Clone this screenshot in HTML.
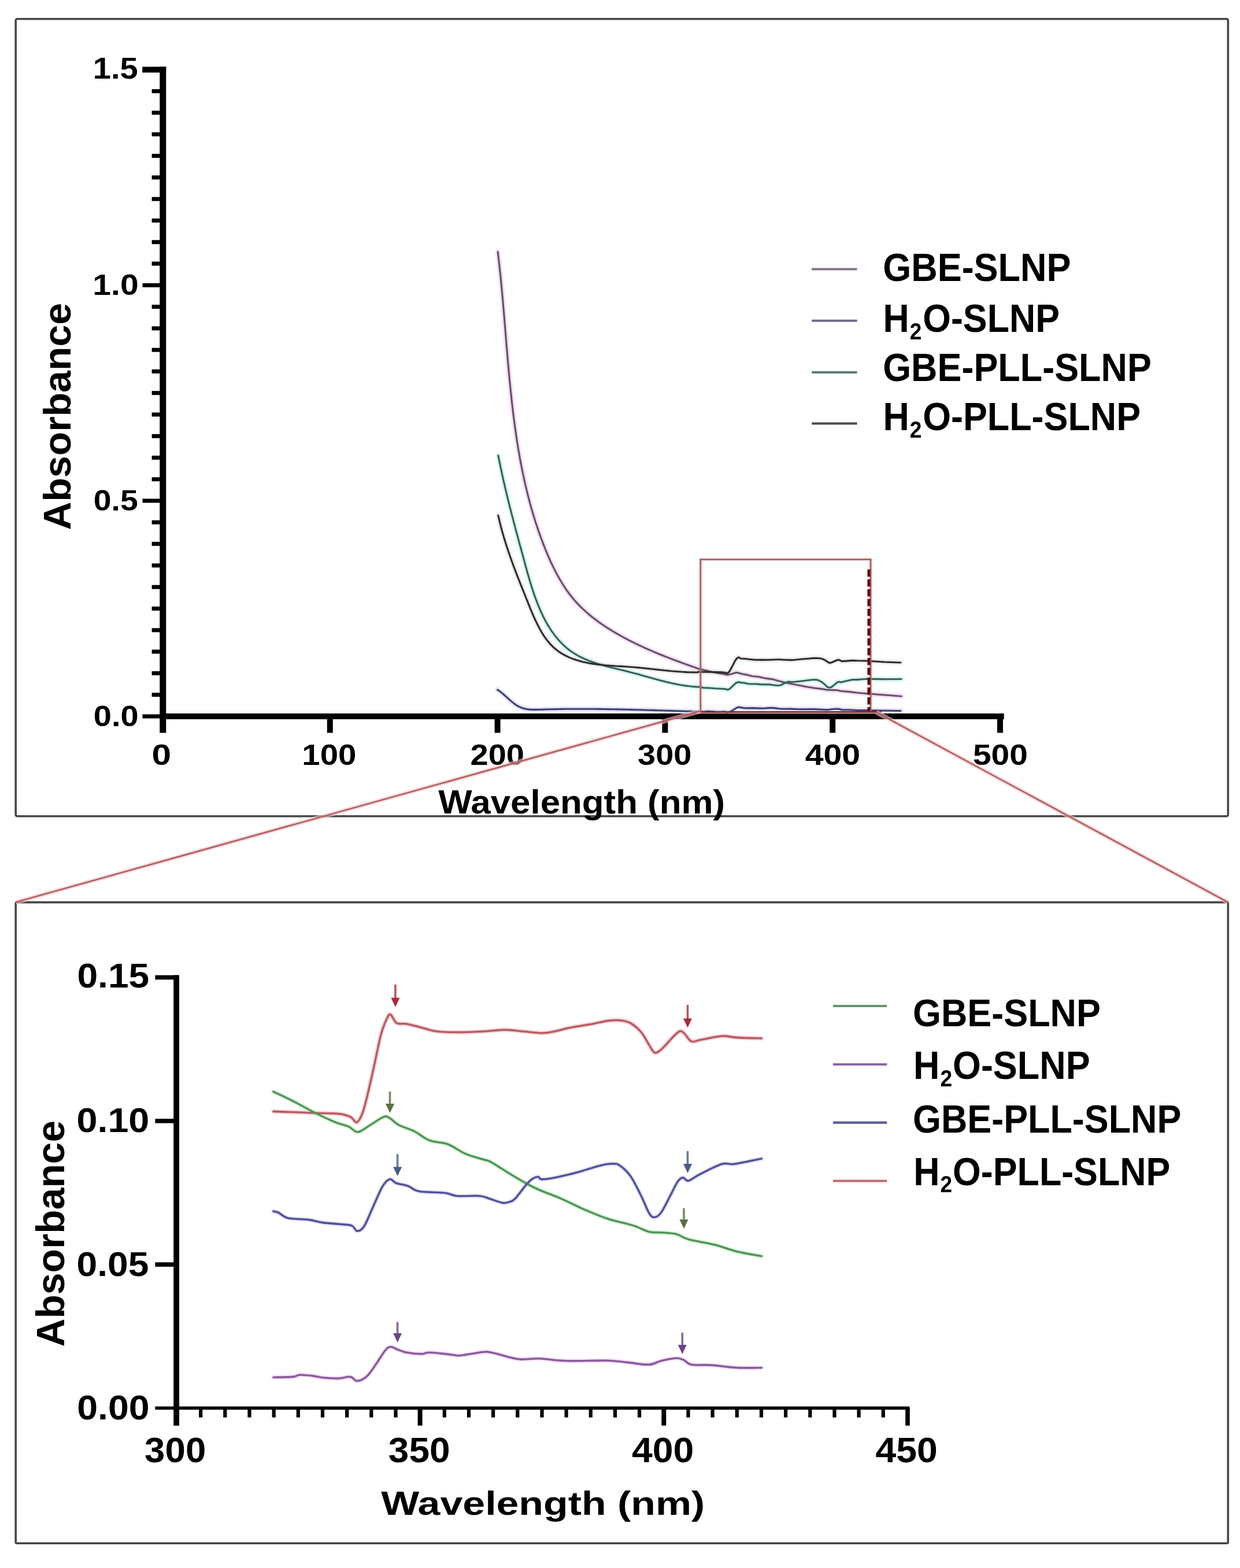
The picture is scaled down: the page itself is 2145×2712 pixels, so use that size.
<!DOCTYPE html>
<html><head><meta charset="utf-8"><title>UV-Vis absorbance spectra</title>
<style>html,body{margin:0;padding:0;background:#fff;}body{width:2145px;height:2712px;overflow:hidden;}svg{display:block;}text{font-family:"Liberation Sans",Arial,sans-serif;font-weight:bold;}</style>
</head><body>
<svg width="2145" height="2712" viewBox="0 0 2145 2712" font-family="Liberation Sans, Arial, sans-serif" font-weight="bold">
<rect width="2145" height="2712" fill="#fff"/>
<rect x="27.2" y="32.8" width="2097.1" height="1378.9" rx="2.5" fill="none" stroke="#464646" stroke-width="3.6"/>
<rect x="27.2" y="1560.6" width="2097.1" height="1108.7" rx="2" fill="none" stroke="#464646" stroke-width="3.6"/>
<path d="M861.1 435.5 L861.8 440.9 L862.4 446.3 L863.0 451.8 L863.6 457.2 L864.2 462.7 L864.8 468.1 L865.4 473.6 L866.0 479.1 L866.5 484.5 L867.0 490.0 L867.6 495.5 L868.1 501.0 L868.6 506.5 L869.1 512.1 L869.6 517.6 L870.1 523.1 L870.5 528.6 L871.0 534.2 L871.5 539.7 L872.0 545.2 L872.4 550.8 L872.9 556.3 L873.3 561.9 L873.8 567.4 L874.2 573.0 L874.7 578.6 L875.2 584.1 L875.6 589.7 L876.1 595.3 L876.5 600.8 L877.0 606.4 L877.5 612.0 L877.9 617.5 L878.4 623.1 L878.9 628.7 L879.4 634.3 L879.9 639.8 L880.4 645.4 L880.9 651.0 L881.5 656.6 L882.0 662.1 L882.6 667.7 L883.1 673.3 L883.7 678.8 L884.3 684.4 L884.9 690.0 L885.5 695.5 L886.1 701.1 L886.8 706.6 L887.4 712.2 L888.1 717.7 L888.8 723.3 L889.5 728.8 L890.3 734.4 L891.0 739.9 L891.8 745.4 L892.6 751.0 L893.4 756.5 L894.2 762.0 L895.1 767.5 L896.0 773.0 L896.9 778.5 L897.9 784.0 L898.8 789.5 L899.8 794.9 L900.8 800.4 L901.9 805.9 L903.0 811.3 L904.1 816.8 L905.2 822.2 L906.4 827.7 L907.6 833.1 L908.8 838.5 L910.1 843.9 L911.4 849.3 L912.7 854.7 L914.1 860.1 L915.5 865.4 L916.9 870.8 L918.4 876.1 L919.9 881.5 L921.5 886.8 L923.0 892.1 L924.7 897.4 L926.3 902.7 L928.1 908.0 L929.8 913.2 L931.6 918.5 L933.5 923.7 L935.3 929.0 L937.3 934.2 L939.2 939.4 L941.3 944.6 L943.3 949.8 L945.4 954.9 L947.6 960.1 L949.8 965.2 L952.1 970.3 L954.4 975.4 L956.9 980.4 L959.3 985.4 L961.9 990.3 L964.5 995.2 L967.2 1000.1 L970.0 1004.8 L972.8 1009.5 L975.8 1014.2 L978.9 1018.8 L982.0 1023.3 L985.3 1027.7 L988.7 1032.0 L992.1 1036.2 L995.7 1040.3 L999.4 1044.4 L1003.2 1048.3 L1007.1 1052.2 L1011.2 1055.9 L1015.3 1059.6 L1019.5 1063.2 L1023.7 1066.7 L1028.1 1070.1 L1032.5 1073.5 L1037.0 1076.7 L1041.6 1079.9 L1046.2 1083.1 L1050.9 1086.1 L1055.6 1089.1 L1060.4 1092.0 L1065.3 1094.9 L1070.1 1097.7 L1075.0 1100.5 L1080.0 1103.2 L1085.0 1105.8 L1090.0 1108.4 L1095.0 1110.9 L1100.1 1113.4 L1105.2 1115.9 L1110.3 1118.2 L1115.4 1120.6 L1120.6 1122.9 L1125.8 1125.2 L1130.9 1127.4 L1136.1 1129.5 L1141.3 1131.7 L1146.5 1133.8 L1151.7 1135.9 L1157.0 1137.9 L1162.2 1139.9 L1167.4 1141.9 L1172.6 1143.8 L1177.8 1145.7 L1182.9 1147.6 L1188.1 1149.5 L1193.2 1151.3 L1198.4 1153.1 L1203.5 1154.9 L1208.1 1156.8 L1219.4 1159.2 L1233.0 1162.4 L1244.8 1164.7 L1252.9 1165.9 L1258.3 1167.3 L1265.6 1165.5 L1273.7 1163.3 L1277.4 1163.7 L1282.8 1165.5 L1291.8 1167.1 L1300.9 1169.5 L1311.8 1170.5 L1321.7 1172.8 L1332.6 1174.4 L1337.1 1175.0 L1348.0 1178.0 L1358.9 1180.7 L1366.1 1182.3 L1379.7 1184.7 L1393.3 1187.5 L1406.8 1189.8 L1422.2 1191.6 L1431.3 1193.2 L1438.5 1193.4 L1447.6 1193.8 L1454.8 1195.2 L1470.2 1196.6 L1483.8 1198.3 L1498.3 1199.5 L1559.2 1204.3" fill="none" stroke="#f4d2f4" stroke-width="9" stroke-linejoin="round" stroke-linecap="round" opacity="0.75"/>
<path d="M860.6 1193.1 L862.5 1194.3 L864.3 1195.6 L866.2 1197.0 L868.0 1198.4 L869.8 1199.9 L871.6 1201.5 L873.4 1203.0 L875.1 1204.6 L876.9 1206.2 L878.7 1207.9 L880.5 1209.5 L882.3 1211.1 L884.1 1212.6 L885.9 1214.1 L887.8 1215.6 L889.6 1217.0 L891.5 1218.4 L893.4 1219.7 L895.3 1220.9 L897.3 1222.0 L899.3 1222.9 L901.4 1223.8 L903.5 1224.6 L905.6 1225.2 L907.7 1225.7 L909.9 1226.2 L912.1 1226.6 L914.4 1226.9 L916.6 1227.1 L918.9 1227.3 L921.2 1227.4 L923.5 1227.4 L925.8 1227.4 L928.2 1227.4 L930.5 1227.4 L932.9 1227.3 L935.2 1227.2 L937.6 1227.2 L940.0 1227.1 L942.3 1227.0 L944.7 1227.0 L947.0 1226.9 L949.4 1226.8 L951.7 1226.8 L954.1 1226.7 L956.4 1226.7 L958.8 1226.6 L961.1 1226.6 L963.5 1226.5 L965.8 1226.5 L968.2 1226.5 L970.5 1226.4 L972.9 1226.4 L975.2 1226.4 L977.5 1226.3 L979.9 1226.3 L982.2 1226.3 L984.6 1226.3 L986.9 1226.3 L989.2 1226.2 L991.6 1226.2 L993.9 1226.2 L996.2 1226.2 L998.6 1226.2 L1000.9 1226.2 L1003.2 1226.2 L1005.6 1226.2 L1007.9 1226.2 L1010.2 1226.2 L1012.6 1226.2 L1014.9 1226.2 L1017.2 1226.2 L1019.6 1226.2 L1021.9 1226.3 L1024.2 1226.3 L1026.5 1226.3 L1028.9 1226.3 L1031.2 1226.3 L1033.5 1226.4 L1035.9 1226.4 L1038.2 1226.4 L1040.5 1226.4 L1042.8 1226.5 L1045.1 1226.5 L1047.5 1226.5 L1049.8 1226.6 L1052.1 1226.6 L1054.4 1226.6 L1056.8 1226.7 L1059.1 1226.7 L1061.4 1226.8 L1063.7 1226.8 L1066.0 1226.9 L1068.4 1226.9 L1070.7 1226.9 L1073.0 1227.0 L1075.3 1227.0 L1077.6 1227.1 L1080.0 1227.1 L1082.3 1227.2 L1084.6 1227.3 L1086.9 1227.3 L1089.2 1227.4 L1091.6 1227.4 L1093.9 1227.5 L1096.2 1227.5 L1098.5 1227.6 L1100.8 1227.7 L1103.2 1227.7 L1105.5 1227.8 L1107.8 1227.8 L1110.1 1227.9 L1112.4 1228.0 L1114.8 1228.0 L1117.1 1228.1 L1119.4 1228.2 L1121.7 1228.2 L1124.0 1228.3 L1126.4 1228.4 L1128.7 1228.4 L1131.0 1228.5 L1133.3 1228.6 L1135.6 1228.6 L1138.0 1228.7 L1140.3 1228.8 L1142.6 1228.8 L1144.9 1228.9 L1147.2 1229.0 L1149.6 1229.0 L1151.9 1229.1 L1154.2 1229.2 L1156.5 1229.3 L1158.9 1229.3 L1161.2 1229.4 L1163.5 1229.5 L1165.8 1229.5 L1168.2 1229.6 L1170.5 1229.7 L1172.8 1229.7 L1175.1 1229.8 L1177.5 1229.9 L1179.8 1230.0 L1182.1 1230.0 L1184.5 1230.1 L1186.8 1230.2 L1189.1 1230.2 L1191.5 1230.3 L1193.8 1230.4 L1196.1 1230.4 L1198.5 1230.5 L1200.8 1230.5 L1203.1 1230.6 L1205.5 1230.7 L1208.1 1231.0 L1219.4 1230.9 L1223.9 1230.4 L1231.2 1230.6 L1237.5 1231.1 L1246.6 1231.3 L1253.8 1230.9 L1257.9 1231.9 L1263.8 1230.7 L1269.2 1227.5 L1274.7 1224.0 L1277.8 1223.1 L1281.9 1223.8 L1287.3 1224.6 L1296.4 1224.9 L1300.9 1224.6 L1314.5 1225.1 L1319.0 1225.3 L1332.6 1224.4 L1336.2 1224.4 L1341.6 1224.9 L1348.0 1225.7 L1355.2 1226.3 L1366.1 1226.1 L1382.4 1226.7 L1406.8 1226.6 L1418.6 1227.1 L1431.3 1227.7 L1438.5 1226.7 L1447.6 1226.0 L1452.1 1226.5 L1456.6 1227.7 L1468.4 1227.8 L1483.8 1228.5 L1498.3 1228.5 L1558.0 1229.5" fill="none" stroke="#dcdcf6" stroke-width="9" stroke-linejoin="round" stroke-linecap="round" opacity="0.75"/>
<path d="M861.8 787.7 L862.6 791.5 L863.3 795.3 L864.1 799.1 L864.9 802.9 L865.7 806.7 L866.5 810.4 L867.3 814.2 L868.1 817.9 L868.9 821.6 L869.7 825.4 L870.5 829.1 L871.4 832.8 L872.2 836.5 L873.1 840.1 L873.9 843.8 L874.8 847.5 L875.7 851.1 L876.5 854.8 L877.4 858.4 L878.3 862.1 L879.2 865.7 L880.1 869.3 L881.0 873.0 L881.9 876.6 L882.8 880.2 L883.8 883.8 L884.7 887.5 L885.6 891.1 L886.6 894.7 L887.5 898.3 L888.5 901.9 L889.4 905.5 L890.4 909.1 L891.3 912.8 L892.3 916.4 L893.2 920.0 L894.2 923.6 L895.2 927.2 L896.2 930.9 L897.1 934.5 L898.1 938.1 L899.1 941.8 L900.1 945.4 L901.1 949.0 L902.1 952.7 L903.1 956.4 L904.1 960.0 L905.1 963.7 L906.1 967.4 L907.1 971.1 L908.1 974.8 L909.1 978.5 L910.1 982.2 L911.2 985.9 L912.2 989.6 L913.2 993.3 L914.3 997.0 L915.4 1000.7 L916.4 1004.4 L917.6 1008.1 L918.7 1011.8 L919.8 1015.5 L921.0 1019.1 L922.2 1022.8 L923.4 1026.4 L924.7 1030.0 L926.0 1033.7 L927.3 1037.2 L928.6 1040.8 L930.0 1044.4 L931.4 1047.9 L932.9 1051.4 L934.4 1054.9 L935.9 1058.3 L937.5 1061.8 L939.1 1065.2 L940.8 1068.5 L942.5 1071.9 L944.3 1075.2 L946.1 1078.4 L948.0 1081.7 L950.0 1084.8 L952.0 1088.0 L954.0 1091.1 L956.2 1094.1 L958.3 1097.1 L960.6 1100.1 L962.9 1103.0 L965.2 1105.8 L967.7 1108.6 L970.2 1111.2 L972.8 1113.9 L975.4 1116.4 L978.1 1118.8 L980.9 1121.2 L983.7 1123.5 L986.7 1125.7 L989.6 1127.8 L992.7 1129.8 L995.8 1131.7 L999.0 1133.5 L1002.2 1135.3 L1005.5 1136.9 L1008.9 1138.5 L1012.3 1140.1 L1015.7 1141.5 L1019.2 1142.9 L1022.8 1144.2 L1026.3 1145.5 L1029.9 1146.7 L1033.5 1147.9 L1037.2 1149.0 L1040.9 1150.1 L1044.6 1151.1 L1048.3 1152.2 L1052.1 1153.2 L1055.8 1154.1 L1059.6 1155.1 L1063.4 1156.0 L1067.2 1156.9 L1070.9 1157.8 L1074.7 1158.7 L1078.5 1159.6 L1082.3 1160.6 L1086.0 1161.5 L1089.7 1162.4 L1093.5 1163.4 L1097.2 1164.4 L1100.9 1165.3 L1104.6 1166.3 L1108.2 1167.4 L1111.9 1168.4 L1115.5 1169.4 L1119.2 1170.4 L1122.8 1171.4 L1126.4 1172.4 L1130.0 1173.5 L1133.6 1174.5 L1137.3 1175.4 L1140.9 1176.4 L1144.5 1177.4 L1148.1 1178.3 L1151.7 1179.2 L1155.3 1180.1 L1159.0 1180.9 L1162.6 1181.8 L1166.3 1182.5 L1169.9 1183.3 L1173.6 1184.0 L1177.3 1184.7 L1181.0 1185.3 L1184.7 1185.9 L1188.4 1186.4 L1192.2 1186.8 L1195.9 1187.3 L1199.7 1187.6 L1203.5 1187.9 L1207.4 1188.1 L1208.1 1187.9 L1211.3 1188.3 L1216.7 1189.6 L1228.5 1190.0 L1237.5 1190.8 L1247.5 1191.2 L1254.7 1191.6 L1257.9 1193.0 L1262.0 1191.8 L1267.4 1186.7 L1272.8 1181.5 L1277.4 1179.6 L1281.0 1180.6 L1288.2 1181.3 L1294.6 1182.7 L1310.0 1183.1 L1317.2 1183.9 L1330.8 1183.9 L1337.1 1184.7 L1344.4 1185.7 L1348.0 1185.5 L1351.6 1184.7 L1358.9 1180.7 L1362.5 1179.4 L1365.7 1179.0 L1367.4 1179.6 L1375.1 1179.2 L1388.7 1177.8 L1402.3 1176.0 L1409.5 1175.5 L1414.1 1176.0 L1420.4 1178.8 L1426.8 1183.9 L1431.3 1188.3 L1434.5 1189.4 L1438.5 1188.3 L1443.9 1183.9 L1448.5 1180.1 L1451.6 1179.2 L1454.8 1180.0 L1462.1 1178.2 L1474.7 1175.6 L1482.0 1175.6 L1498.3 1174.2 L1530.0 1174.7 L1559.2 1174.5" fill="none" stroke="#c8f4ec" stroke-width="9" stroke-linejoin="round" stroke-linecap="round" opacity="0.75"/>
<path d="M861.8 891.6 L862.6 895.0 L863.4 898.4 L864.2 901.8 L865.0 905.2 L865.9 908.5 L866.7 911.8 L867.6 915.1 L868.5 918.4 L869.4 921.6 L870.3 924.9 L871.3 928.1 L872.2 931.3 L873.2 934.5 L874.2 937.7 L875.2 940.9 L876.2 944.0 L877.2 947.2 L878.3 950.3 L879.3 953.4 L880.4 956.5 L881.4 959.6 L882.5 962.7 L883.6 965.8 L884.7 968.9 L885.8 972.0 L887.0 975.1 L888.1 978.2 L889.2 981.2 L890.4 984.3 L891.6 987.4 L892.7 990.5 L893.9 993.5 L895.1 996.6 L896.3 999.7 L897.5 1002.8 L898.7 1005.8 L899.9 1008.9 L901.2 1012.0 L902.4 1015.1 L903.6 1018.2 L904.9 1021.4 L906.1 1024.5 L907.4 1027.6 L908.7 1030.8 L909.9 1034.0 L911.2 1037.1 L912.5 1040.3 L913.7 1043.5 L915.0 1046.7 L916.3 1049.9 L917.6 1053.2 L919.0 1056.4 L920.3 1059.6 L921.7 1062.8 L923.0 1066.0 L924.5 1069.2 L925.9 1072.3 L927.4 1075.4 L928.9 1078.5 L930.4 1081.6 L932.0 1084.6 L933.6 1087.6 L935.2 1090.6 L936.9 1093.5 L938.7 1096.3 L940.5 1099.1 L942.3 1101.9 L944.2 1104.6 L946.2 1107.2 L948.2 1109.7 L950.3 1112.2 L952.5 1114.6 L954.7 1116.9 L957.0 1119.1 L959.4 1121.3 L961.8 1123.3 L964.4 1125.3 L966.9 1127.2 L969.6 1128.9 L972.3 1130.6 L975.1 1132.2 L978.0 1133.8 L980.9 1135.2 L983.8 1136.6 L986.8 1137.9 L989.9 1139.1 L993.0 1140.2 L996.1 1141.3 L999.3 1142.3 L1002.4 1143.2 L1005.6 1144.1 L1008.9 1144.9 L1012.1 1145.6 L1015.4 1146.3 L1018.7 1146.9 L1022.0 1147.5 L1025.3 1148.1 L1028.6 1148.5 L1032.0 1149.0 L1035.3 1149.4 L1038.7 1149.8 L1042.1 1150.1 L1045.4 1150.5 L1048.8 1150.8 L1052.2 1151.0 L1055.6 1151.3 L1059.0 1151.5 L1062.4 1151.7 L1065.8 1152.0 L1069.2 1152.2 L1072.7 1152.4 L1076.1 1152.6 L1079.5 1152.8 L1082.9 1153.0 L1086.2 1153.2 L1089.6 1153.5 L1093.0 1153.7 L1096.4 1154.0 L1099.7 1154.3 L1103.1 1154.6 L1106.4 1154.9 L1109.8 1155.2 L1113.1 1155.6 L1116.4 1155.9 L1119.7 1156.3 L1123.1 1156.6 L1126.4 1157.0 L1129.7 1157.3 L1133.0 1157.7 L1136.3 1158.1 L1139.6 1158.4 L1142.9 1158.8 L1146.2 1159.1 L1149.5 1159.5 L1152.8 1159.8 L1156.1 1160.1 L1159.4 1160.5 L1162.7 1160.8 L1166.0 1161.0 L1169.3 1161.3 L1172.6 1161.6 L1175.9 1161.8 L1179.2 1162.0 L1182.6 1162.2 L1185.9 1162.4 L1189.2 1162.6 L1192.5 1162.7 L1195.9 1162.8 L1199.2 1162.9 L1202.6 1162.9 L1205.9 1163.0 L1208.1 1162.0 L1233.0 1162.4 L1246.6 1162.6 L1253.8 1163.3 L1257.9 1164.7 L1262.0 1161.2 L1267.4 1151.3 L1271.9 1142.2 L1275.6 1137.8 L1277.8 1136.8 L1281.4 1139.0 L1287.3 1139.2 L1296.4 1140.2 L1305.4 1141.2 L1319.0 1141.4 L1332.6 1141.2 L1343.5 1140.8 L1348.0 1140.8 L1357.0 1141.2 L1367.9 1141.6 L1375.1 1141.2 L1384.2 1140.2 L1397.8 1139.2 L1406.8 1138.4 L1414.1 1138.3 L1420.4 1139.0 L1426.8 1141.4 L1431.3 1144.6 L1434.9 1146.7 L1439.4 1145.5 L1444.9 1143.0 L1449.4 1141.2 L1452.1 1141.6 L1456.6 1143.8 L1462.1 1143.4 L1474.7 1142.4 L1483.8 1142.8 L1498.3 1143.0 L1530.0 1145.0 L1558.0 1146.0" fill="none" stroke="#e6e6e6" stroke-width="9" stroke-linejoin="round" stroke-linecap="round" opacity="0.75"/>
<path d="M861.1 435.5 L861.8 440.9 L862.4 446.3 L863.0 451.8 L863.6 457.2 L864.2 462.7 L864.8 468.1 L865.4 473.6 L866.0 479.1 L866.5 484.5 L867.0 490.0 L867.6 495.5 L868.1 501.0 L868.6 506.5 L869.1 512.1 L869.6 517.6 L870.1 523.1 L870.5 528.6 L871.0 534.2 L871.5 539.7 L872.0 545.2 L872.4 550.8 L872.9 556.3 L873.3 561.9 L873.8 567.4 L874.2 573.0 L874.7 578.6 L875.2 584.1 L875.6 589.7 L876.1 595.3 L876.5 600.8 L877.0 606.4 L877.5 612.0 L877.9 617.5 L878.4 623.1 L878.9 628.7 L879.4 634.3 L879.9 639.8 L880.4 645.4 L880.9 651.0 L881.5 656.6 L882.0 662.1 L882.6 667.7 L883.1 673.3 L883.7 678.8 L884.3 684.4 L884.9 690.0 L885.5 695.5 L886.1 701.1 L886.8 706.6 L887.4 712.2 L888.1 717.7 L888.8 723.3 L889.5 728.8 L890.3 734.4 L891.0 739.9 L891.8 745.4 L892.6 751.0 L893.4 756.5 L894.2 762.0 L895.1 767.5 L896.0 773.0 L896.9 778.5 L897.9 784.0 L898.8 789.5 L899.8 794.9 L900.8 800.4 L901.9 805.9 L903.0 811.3 L904.1 816.8 L905.2 822.2 L906.4 827.7 L907.6 833.1 L908.8 838.5 L910.1 843.9 L911.4 849.3 L912.7 854.7 L914.1 860.1 L915.5 865.4 L916.9 870.8 L918.4 876.1 L919.9 881.5 L921.5 886.8 L923.0 892.1 L924.7 897.4 L926.3 902.7 L928.1 908.0 L929.8 913.2 L931.6 918.5 L933.5 923.7 L935.3 929.0 L937.3 934.2 L939.2 939.4 L941.3 944.6 L943.3 949.8 L945.4 954.9 L947.6 960.1 L949.8 965.2 L952.1 970.3 L954.4 975.4 L956.9 980.4 L959.3 985.4 L961.9 990.3 L964.5 995.2 L967.2 1000.1 L970.0 1004.8 L972.8 1009.5 L975.8 1014.2 L978.9 1018.8 L982.0 1023.3 L985.3 1027.7 L988.7 1032.0 L992.1 1036.2 L995.7 1040.3 L999.4 1044.4 L1003.2 1048.3 L1007.1 1052.2 L1011.2 1055.9 L1015.3 1059.6 L1019.5 1063.2 L1023.7 1066.7 L1028.1 1070.1 L1032.5 1073.5 L1037.0 1076.7 L1041.6 1079.9 L1046.2 1083.1 L1050.9 1086.1 L1055.6 1089.1 L1060.4 1092.0 L1065.3 1094.9 L1070.1 1097.7 L1075.0 1100.5 L1080.0 1103.2 L1085.0 1105.8 L1090.0 1108.4 L1095.0 1110.9 L1100.1 1113.4 L1105.2 1115.9 L1110.3 1118.2 L1115.4 1120.6 L1120.6 1122.9 L1125.8 1125.2 L1130.9 1127.4 L1136.1 1129.5 L1141.3 1131.7 L1146.5 1133.8 L1151.7 1135.9 L1157.0 1137.9 L1162.2 1139.9 L1167.4 1141.9 L1172.6 1143.8 L1177.8 1145.7 L1182.9 1147.6 L1188.1 1149.5 L1193.2 1151.3 L1198.4 1153.1 L1203.5 1154.9 L1208.1 1156.8 L1219.4 1159.2 L1233.0 1162.4 L1244.8 1164.7 L1252.9 1165.9 L1258.3 1167.3 L1265.6 1165.5 L1273.7 1163.3 L1277.4 1163.7 L1282.8 1165.5 L1291.8 1167.1 L1300.9 1169.5 L1311.8 1170.5 L1321.7 1172.8 L1332.6 1174.4 L1337.1 1175.0 L1348.0 1178.0 L1358.9 1180.7 L1366.1 1182.3 L1379.7 1184.7 L1393.3 1187.5 L1406.8 1189.8 L1422.2 1191.6 L1431.3 1193.2 L1438.5 1193.4 L1447.6 1193.8 L1454.8 1195.2 L1470.2 1196.6 L1483.8 1198.3 L1498.3 1199.5 L1559.2 1204.3" fill="none" stroke="#605362" stroke-width="3.1" stroke-linejoin="round" stroke-linecap="round"/>
<path d="M860.6 1193.1 L862.5 1194.3 L864.3 1195.6 L866.2 1197.0 L868.0 1198.4 L869.8 1199.9 L871.6 1201.5 L873.4 1203.0 L875.1 1204.6 L876.9 1206.2 L878.7 1207.9 L880.5 1209.5 L882.3 1211.1 L884.1 1212.6 L885.9 1214.1 L887.8 1215.6 L889.6 1217.0 L891.5 1218.4 L893.4 1219.7 L895.3 1220.9 L897.3 1222.0 L899.3 1222.9 L901.4 1223.8 L903.5 1224.6 L905.6 1225.2 L907.7 1225.7 L909.9 1226.2 L912.1 1226.6 L914.4 1226.9 L916.6 1227.1 L918.9 1227.3 L921.2 1227.4 L923.5 1227.4 L925.8 1227.4 L928.2 1227.4 L930.5 1227.4 L932.9 1227.3 L935.2 1227.2 L937.6 1227.2 L940.0 1227.1 L942.3 1227.0 L944.7 1227.0 L947.0 1226.9 L949.4 1226.8 L951.7 1226.8 L954.1 1226.7 L956.4 1226.7 L958.8 1226.6 L961.1 1226.6 L963.5 1226.5 L965.8 1226.5 L968.2 1226.5 L970.5 1226.4 L972.9 1226.4 L975.2 1226.4 L977.5 1226.3 L979.9 1226.3 L982.2 1226.3 L984.6 1226.3 L986.9 1226.3 L989.2 1226.2 L991.6 1226.2 L993.9 1226.2 L996.2 1226.2 L998.6 1226.2 L1000.9 1226.2 L1003.2 1226.2 L1005.6 1226.2 L1007.9 1226.2 L1010.2 1226.2 L1012.6 1226.2 L1014.9 1226.2 L1017.2 1226.2 L1019.6 1226.2 L1021.9 1226.3 L1024.2 1226.3 L1026.5 1226.3 L1028.9 1226.3 L1031.2 1226.3 L1033.5 1226.4 L1035.9 1226.4 L1038.2 1226.4 L1040.5 1226.4 L1042.8 1226.5 L1045.1 1226.5 L1047.5 1226.5 L1049.8 1226.6 L1052.1 1226.6 L1054.4 1226.6 L1056.8 1226.7 L1059.1 1226.7 L1061.4 1226.8 L1063.7 1226.8 L1066.0 1226.9 L1068.4 1226.9 L1070.7 1226.9 L1073.0 1227.0 L1075.3 1227.0 L1077.6 1227.1 L1080.0 1227.1 L1082.3 1227.2 L1084.6 1227.3 L1086.9 1227.3 L1089.2 1227.4 L1091.6 1227.4 L1093.9 1227.5 L1096.2 1227.5 L1098.5 1227.6 L1100.8 1227.7 L1103.2 1227.7 L1105.5 1227.8 L1107.8 1227.8 L1110.1 1227.9 L1112.4 1228.0 L1114.8 1228.0 L1117.1 1228.1 L1119.4 1228.2 L1121.7 1228.2 L1124.0 1228.3 L1126.4 1228.4 L1128.7 1228.4 L1131.0 1228.5 L1133.3 1228.6 L1135.6 1228.6 L1138.0 1228.7 L1140.3 1228.8 L1142.6 1228.8 L1144.9 1228.9 L1147.2 1229.0 L1149.6 1229.0 L1151.9 1229.1 L1154.2 1229.2 L1156.5 1229.3 L1158.9 1229.3 L1161.2 1229.4 L1163.5 1229.5 L1165.8 1229.5 L1168.2 1229.6 L1170.5 1229.7 L1172.8 1229.7 L1175.1 1229.8 L1177.5 1229.9 L1179.8 1230.0 L1182.1 1230.0 L1184.5 1230.1 L1186.8 1230.2 L1189.1 1230.2 L1191.5 1230.3 L1193.8 1230.4 L1196.1 1230.4 L1198.5 1230.5 L1200.8 1230.5 L1203.1 1230.6 L1205.5 1230.7 L1208.1 1231.0 L1219.4 1230.9 L1223.9 1230.4 L1231.2 1230.6 L1237.5 1231.1 L1246.6 1231.3 L1253.8 1230.9 L1257.9 1231.9 L1263.8 1230.7 L1269.2 1227.5 L1274.7 1224.0 L1277.8 1223.1 L1281.9 1223.8 L1287.3 1224.6 L1296.4 1224.9 L1300.9 1224.6 L1314.5 1225.1 L1319.0 1225.3 L1332.6 1224.4 L1336.2 1224.4 L1341.6 1224.9 L1348.0 1225.7 L1355.2 1226.3 L1366.1 1226.1 L1382.4 1226.7 L1406.8 1226.6 L1418.6 1227.1 L1431.3 1227.7 L1438.5 1226.7 L1447.6 1226.0 L1452.1 1226.5 L1456.6 1227.7 L1468.4 1227.8 L1483.8 1228.5 L1498.3 1228.5 L1558.0 1229.5" fill="none" stroke="#3e3e72" stroke-width="3.1" stroke-linejoin="round" stroke-linecap="round"/>
<path d="M861.8 787.7 L862.6 791.5 L863.3 795.3 L864.1 799.1 L864.9 802.9 L865.7 806.7 L866.5 810.4 L867.3 814.2 L868.1 817.9 L868.9 821.6 L869.7 825.4 L870.5 829.1 L871.4 832.8 L872.2 836.5 L873.1 840.1 L873.9 843.8 L874.8 847.5 L875.7 851.1 L876.5 854.8 L877.4 858.4 L878.3 862.1 L879.2 865.7 L880.1 869.3 L881.0 873.0 L881.9 876.6 L882.8 880.2 L883.8 883.8 L884.7 887.5 L885.6 891.1 L886.6 894.7 L887.5 898.3 L888.5 901.9 L889.4 905.5 L890.4 909.1 L891.3 912.8 L892.3 916.4 L893.2 920.0 L894.2 923.6 L895.2 927.2 L896.2 930.9 L897.1 934.5 L898.1 938.1 L899.1 941.8 L900.1 945.4 L901.1 949.0 L902.1 952.7 L903.1 956.4 L904.1 960.0 L905.1 963.7 L906.1 967.4 L907.1 971.1 L908.1 974.8 L909.1 978.5 L910.1 982.2 L911.2 985.9 L912.2 989.6 L913.2 993.3 L914.3 997.0 L915.4 1000.7 L916.4 1004.4 L917.6 1008.1 L918.7 1011.8 L919.8 1015.5 L921.0 1019.1 L922.2 1022.8 L923.4 1026.4 L924.7 1030.0 L926.0 1033.7 L927.3 1037.2 L928.6 1040.8 L930.0 1044.4 L931.4 1047.9 L932.9 1051.4 L934.4 1054.9 L935.9 1058.3 L937.5 1061.8 L939.1 1065.2 L940.8 1068.5 L942.5 1071.9 L944.3 1075.2 L946.1 1078.4 L948.0 1081.7 L950.0 1084.8 L952.0 1088.0 L954.0 1091.1 L956.2 1094.1 L958.3 1097.1 L960.6 1100.1 L962.9 1103.0 L965.2 1105.8 L967.7 1108.6 L970.2 1111.2 L972.8 1113.9 L975.4 1116.4 L978.1 1118.8 L980.9 1121.2 L983.7 1123.5 L986.7 1125.7 L989.6 1127.8 L992.7 1129.8 L995.8 1131.7 L999.0 1133.5 L1002.2 1135.3 L1005.5 1136.9 L1008.9 1138.5 L1012.3 1140.1 L1015.7 1141.5 L1019.2 1142.9 L1022.8 1144.2 L1026.3 1145.5 L1029.9 1146.7 L1033.5 1147.9 L1037.2 1149.0 L1040.9 1150.1 L1044.6 1151.1 L1048.3 1152.2 L1052.1 1153.2 L1055.8 1154.1 L1059.6 1155.1 L1063.4 1156.0 L1067.2 1156.9 L1070.9 1157.8 L1074.7 1158.7 L1078.5 1159.6 L1082.3 1160.6 L1086.0 1161.5 L1089.7 1162.4 L1093.5 1163.4 L1097.2 1164.4 L1100.9 1165.3 L1104.6 1166.3 L1108.2 1167.4 L1111.9 1168.4 L1115.5 1169.4 L1119.2 1170.4 L1122.8 1171.4 L1126.4 1172.4 L1130.0 1173.5 L1133.6 1174.5 L1137.3 1175.4 L1140.9 1176.4 L1144.5 1177.4 L1148.1 1178.3 L1151.7 1179.2 L1155.3 1180.1 L1159.0 1180.9 L1162.6 1181.8 L1166.3 1182.5 L1169.9 1183.3 L1173.6 1184.0 L1177.3 1184.7 L1181.0 1185.3 L1184.7 1185.9 L1188.4 1186.4 L1192.2 1186.8 L1195.9 1187.3 L1199.7 1187.6 L1203.5 1187.9 L1207.4 1188.1 L1208.1 1187.9 L1211.3 1188.3 L1216.7 1189.6 L1228.5 1190.0 L1237.5 1190.8 L1247.5 1191.2 L1254.7 1191.6 L1257.9 1193.0 L1262.0 1191.8 L1267.4 1186.7 L1272.8 1181.5 L1277.4 1179.6 L1281.0 1180.6 L1288.2 1181.3 L1294.6 1182.7 L1310.0 1183.1 L1317.2 1183.9 L1330.8 1183.9 L1337.1 1184.7 L1344.4 1185.7 L1348.0 1185.5 L1351.6 1184.7 L1358.9 1180.7 L1362.5 1179.4 L1365.7 1179.0 L1367.4 1179.6 L1375.1 1179.2 L1388.7 1177.8 L1402.3 1176.0 L1409.5 1175.5 L1414.1 1176.0 L1420.4 1178.8 L1426.8 1183.9 L1431.3 1188.3 L1434.5 1189.4 L1438.5 1188.3 L1443.9 1183.9 L1448.5 1180.1 L1451.6 1179.2 L1454.8 1180.0 L1462.1 1178.2 L1474.7 1175.6 L1482.0 1175.6 L1498.3 1174.2 L1530.0 1174.7 L1559.2 1174.5" fill="none" stroke="#3a5e58" stroke-width="3.1" stroke-linejoin="round" stroke-linecap="round"/>
<path d="M861.8 891.6 L862.6 895.0 L863.4 898.4 L864.2 901.8 L865.0 905.2 L865.9 908.5 L866.7 911.8 L867.6 915.1 L868.5 918.4 L869.4 921.6 L870.3 924.9 L871.3 928.1 L872.2 931.3 L873.2 934.5 L874.2 937.7 L875.2 940.9 L876.2 944.0 L877.2 947.2 L878.3 950.3 L879.3 953.4 L880.4 956.5 L881.4 959.6 L882.5 962.7 L883.6 965.8 L884.7 968.9 L885.8 972.0 L887.0 975.1 L888.1 978.2 L889.2 981.2 L890.4 984.3 L891.6 987.4 L892.7 990.5 L893.9 993.5 L895.1 996.6 L896.3 999.7 L897.5 1002.8 L898.7 1005.8 L899.9 1008.9 L901.2 1012.0 L902.4 1015.1 L903.6 1018.2 L904.9 1021.4 L906.1 1024.5 L907.4 1027.6 L908.7 1030.8 L909.9 1034.0 L911.2 1037.1 L912.5 1040.3 L913.7 1043.5 L915.0 1046.7 L916.3 1049.9 L917.6 1053.2 L919.0 1056.4 L920.3 1059.6 L921.7 1062.8 L923.0 1066.0 L924.5 1069.2 L925.9 1072.3 L927.4 1075.4 L928.9 1078.5 L930.4 1081.6 L932.0 1084.6 L933.6 1087.6 L935.2 1090.6 L936.9 1093.5 L938.7 1096.3 L940.5 1099.1 L942.3 1101.9 L944.2 1104.6 L946.2 1107.2 L948.2 1109.7 L950.3 1112.2 L952.5 1114.6 L954.7 1116.9 L957.0 1119.1 L959.4 1121.3 L961.8 1123.3 L964.4 1125.3 L966.9 1127.2 L969.6 1128.9 L972.3 1130.6 L975.1 1132.2 L978.0 1133.8 L980.9 1135.2 L983.8 1136.6 L986.8 1137.9 L989.9 1139.1 L993.0 1140.2 L996.1 1141.3 L999.3 1142.3 L1002.4 1143.2 L1005.6 1144.1 L1008.9 1144.9 L1012.1 1145.6 L1015.4 1146.3 L1018.7 1146.9 L1022.0 1147.5 L1025.3 1148.1 L1028.6 1148.5 L1032.0 1149.0 L1035.3 1149.4 L1038.7 1149.8 L1042.1 1150.1 L1045.4 1150.5 L1048.8 1150.8 L1052.2 1151.0 L1055.6 1151.3 L1059.0 1151.5 L1062.4 1151.7 L1065.8 1152.0 L1069.2 1152.2 L1072.7 1152.4 L1076.1 1152.6 L1079.5 1152.8 L1082.9 1153.0 L1086.2 1153.2 L1089.6 1153.5 L1093.0 1153.7 L1096.4 1154.0 L1099.7 1154.3 L1103.1 1154.6 L1106.4 1154.9 L1109.8 1155.2 L1113.1 1155.6 L1116.4 1155.9 L1119.7 1156.3 L1123.1 1156.6 L1126.4 1157.0 L1129.7 1157.3 L1133.0 1157.7 L1136.3 1158.1 L1139.6 1158.4 L1142.9 1158.8 L1146.2 1159.1 L1149.5 1159.5 L1152.8 1159.8 L1156.1 1160.1 L1159.4 1160.5 L1162.7 1160.8 L1166.0 1161.0 L1169.3 1161.3 L1172.6 1161.6 L1175.9 1161.8 L1179.2 1162.0 L1182.6 1162.2 L1185.9 1162.4 L1189.2 1162.6 L1192.5 1162.7 L1195.9 1162.8 L1199.2 1162.9 L1202.6 1162.9 L1205.9 1163.0 L1208.1 1162.0 L1233.0 1162.4 L1246.6 1162.6 L1253.8 1163.3 L1257.9 1164.7 L1262.0 1161.2 L1267.4 1151.3 L1271.9 1142.2 L1275.6 1137.8 L1277.8 1136.8 L1281.4 1139.0 L1287.3 1139.2 L1296.4 1140.2 L1305.4 1141.2 L1319.0 1141.4 L1332.6 1141.2 L1343.5 1140.8 L1348.0 1140.8 L1357.0 1141.2 L1367.9 1141.6 L1375.1 1141.2 L1384.2 1140.2 L1397.8 1139.2 L1406.8 1138.4 L1414.1 1138.3 L1420.4 1139.0 L1426.8 1141.4 L1431.3 1144.6 L1434.9 1146.7 L1439.4 1145.5 L1444.9 1143.0 L1449.4 1141.2 L1452.1 1141.6 L1456.6 1143.8 L1462.1 1143.4 L1474.7 1142.4 L1483.8 1142.8 L1498.3 1143.0 L1530.0 1145.0 L1558.0 1146.0" fill="none" stroke="#2c2c2c" stroke-width="3.1" stroke-linejoin="round" stroke-linecap="round"/>
<path d="M1211.8 1233 V967.6 H1506 V1233" fill="none" stroke="#b8646a" stroke-width="3.4"/>
<line x1="1503" y1="985" x2="1503" y2="1232" stroke="#5e0a10" stroke-width="5" stroke-dasharray="12.5 4.5"/>
<line x1="1211.8" y1="1231.5" x2="1525" y2="1231.5" stroke="#8a2a2a" stroke-width="3"/>
<g fill="#000">
<rect x="276.3" y="115.5" width="11" height="1152"/>
<rect x="246.2" y="115.5" width="41" height="10"/>
<rect x="246.5" y="489.8" width="31" height="7"/>
<rect x="246.5" y="862.6" width="31" height="7"/>
<rect x="246.5" y="1235.5" width="31" height="7"/>
<rect x="262.6" y="1198.2" width="15" height="7"/>
<rect x="262.6" y="1160.9" width="15" height="7"/>
<rect x="262.6" y="1123.6" width="15" height="7"/>
<rect x="262.6" y="1086.4" width="15" height="7"/>
<rect x="262.6" y="1049.1" width="15" height="7"/>
<rect x="262.6" y="1011.8" width="15" height="7"/>
<rect x="262.6" y="974.5" width="15" height="7"/>
<rect x="262.6" y="937.2" width="15" height="7"/>
<rect x="262.6" y="899.9" width="15" height="7"/>
<rect x="262.6" y="825.4" width="15" height="7"/>
<rect x="262.6" y="788.1" width="15" height="7"/>
<rect x="262.6" y="750.8" width="15" height="7"/>
<rect x="262.6" y="713.5" width="15" height="7"/>
<rect x="262.6" y="676.2" width="15" height="7"/>
<rect x="262.6" y="638.9" width="15" height="7"/>
<rect x="262.6" y="601.7" width="15" height="7"/>
<rect x="262.6" y="564.4" width="15" height="7"/>
<rect x="262.6" y="527.1" width="15" height="7"/>
<rect x="262.6" y="452.5" width="15" height="7"/>
<rect x="262.6" y="415.2" width="15" height="7"/>
<rect x="262.6" y="377.9" width="15" height="7"/>
<rect x="262.6" y="340.7" width="15" height="7"/>
<rect x="262.6" y="303.4" width="15" height="7"/>
<rect x="262.6" y="266.1" width="15" height="7"/>
<rect x="262.6" y="228.8" width="15" height="7"/>
<rect x="262.6" y="191.5" width="15" height="7"/>
<rect x="262.6" y="154.2" width="15" height="7"/>
<rect x="276.3" y="1234" width="1460.4" height="10"/>
<rect x="565.8" y="1238" width="10" height="29.5"/>
<rect x="855.6" y="1238" width="10" height="29.5"/>
<rect x="1145.4" y="1238" width="10" height="29.5"/>
<rect x="1435.2" y="1238" width="10" height="29.5"/>
<rect x="1725.0" y="1238" width="10" height="29.5"/>
</g>
<text transform="translate(160.85 136.49) scale(1.0904 1)" font-size="51.43" fill="#000">1.5</text>
<text transform="translate(160.29 509.99) scale(1.1265 1)" font-size="50.70" fill="#000">1.0</text>
<text transform="translate(161.78 882.99) scale(1.0925 1)" font-size="50.70" fill="#000">0.5</text>
<text transform="translate(161.76 1256.49) scale(1.1050 1)" font-size="50.70" fill="#000">0.0</text>
<text transform="translate(262.58 1322.90) scale(1.2050 1)" font-size="50.14" fill="#000">0</text>
<text transform="translate(522.33 1322.90) scale(1.1250 1)" font-size="50.14" fill="#000">100</text>
<text transform="translate(813.54 1322.90) scale(1.1164 1)" font-size="50.14" fill="#000">200</text>
<text transform="translate(1103.10 1322.90) scale(1.1156 1)" font-size="50.14" fill="#000">300</text>
<text transform="translate(1392.64 1322.90) scale(1.1421 1)" font-size="50.14" fill="#000">400</text>
<text transform="translate(1682.89 1322.90) scale(1.1354 1)" font-size="50.14" fill="#000">500</text>
<text transform="translate(121.63 916.70) rotate(-90) scale(1.0090 1)" font-size="67.35" fill="#000">Absorbance</text>
<text transform="translate(758.30 1407.10) scale(1.0910 1)" font-size="56.68" fill="#000">Wavelength (nm)</text>
<line x1="1404.2" y1="465.6" x2="1482.6" y2="465.6" stroke="#86728a" stroke-width="4"/>
<line x1="1404.2" y1="554.8" x2="1482.6" y2="554.8" stroke="#6c6c88" stroke-width="4"/>
<line x1="1404.2" y1="644.0" x2="1482.6" y2="644.0" stroke="#5a7d76" stroke-width="4"/>
<line x1="1404.2" y1="732.5" x2="1482.6" y2="732.5" stroke="#4c4c4c" stroke-width="4"/>
<text transform="translate(1527.18 485.92) scale(0.9220 1)" font-size="68.31" fill="#000">GBE-SLNP</text>
<text transform="translate(1596.19 573.72) scale(0.9217 1)" font-size="68.03" fill="#000"><tspan x="-74.50" y="0">H</tspan><tspan x="-24.29" y="13.28" font-size="40.29">2</tspan><tspan x="0" y="0">O-SLNP</tspan></text>
<text transform="translate(1527.18 658.72) scale(0.9265 1)" font-size="67.89" fill="#000">GBE-PLL-SLNP</text>
<text transform="translate(1596.19 743.72) scale(0.9236 1)" font-size="68.03" fill="#000"><tspan x="-74.35" y="0">H</tspan><tspan x="-24.35" y="13.28" font-size="40.29">2</tspan><tspan x="0" y="0">O-PLL-SLNP</tspan></text>
<path d="M472.9 1922.4 C485.0 1922.8 526.7 1924.3 545.4 1925.0 C564.1 1925.7 574.8 1925.2 584.9 1926.3 C595.0 1927.4 600.5 1929.2 606.0 1931.6 C611.5 1934.0 613.8 1943.2 617.8 1940.8 C621.8 1938.4 625.1 1931.9 629.7 1917.0 C634.3 1902.1 640.7 1872.3 645.5 1851.2 C650.3 1830.1 654.8 1805.5 658.7 1790.6 C662.7 1775.7 666.4 1767.6 669.2 1761.7 C672.1 1755.8 672.9 1753.7 675.8 1755.0 C678.6 1756.3 681.7 1766.9 686.3 1769.6 C690.9 1772.2 696.1 1769.6 703.4 1770.9 C710.6 1772.2 721.0 1775.3 729.8 1777.5 C738.6 1779.7 745.1 1782.7 756.1 1784.0 C767.1 1785.3 782.4 1785.4 795.6 1785.4 C808.8 1785.4 823.3 1784.7 835.2 1784.0 C847.1 1783.3 859.3 1781.8 866.8 1781.4 C874.3 1781.0 873.4 1781.0 880.0 1781.4 C886.6 1781.8 896.6 1783.1 906.3 1784.0 C916.0 1784.9 929.2 1786.7 938.0 1786.7 C946.8 1786.7 951.1 1785.5 959.0 1784.0 C966.9 1782.5 974.4 1779.7 985.4 1777.5 C996.4 1775.3 1013.9 1772.9 1024.9 1770.9 C1035.9 1768.9 1043.3 1766.6 1051.2 1765.6 C1059.1 1764.6 1065.7 1764.1 1072.3 1764.8 C1078.9 1765.5 1084.5 1766.2 1090.7 1769.6 C1096.9 1773.0 1103.9 1779.3 1109.2 1785.4 C1114.5 1791.5 1118.5 1800.5 1122.4 1806.4 C1126.4 1812.3 1129.0 1819.8 1132.9 1820.9 C1136.9 1822.0 1141.3 1817.2 1146.1 1813.0 C1150.9 1808.8 1157.1 1800.7 1161.9 1795.9 C1166.7 1791.1 1171.5 1785.5 1175.0 1784.0 C1178.5 1782.5 1179.5 1783.8 1183.0 1786.7 C1186.5 1789.6 1191.3 1799.2 1196.1 1801.2 C1200.9 1803.2 1203.1 1800.0 1211.9 1798.5 C1220.7 1797.0 1238.2 1792.7 1248.8 1792.0 C1259.3 1791.3 1263.8 1793.9 1275.2 1794.6 C1286.6 1795.2 1310.3 1795.7 1317.3 1795.9" fill="none" stroke="#f9c0c4" stroke-width="8" stroke-linejoin="round" stroke-linecap="round" opacity="0.6"/>
<path d="M472.9 1888.1 C478.4 1890.7 493.8 1897.8 505.9 1903.9 C518.0 1910.1 533.1 1918.8 545.4 1925.0 C557.7 1931.2 570.0 1936.8 579.6 1940.8 C589.2 1944.8 596.7 1945.8 603.3 1948.7 C609.9 1951.6 613.0 1958.4 619.1 1957.9 C625.2 1957.5 632.7 1950.4 640.2 1946.0 C647.7 1941.6 658.2 1933.6 663.9 1931.6 C669.6 1929.6 670.1 1931.8 674.5 1934.2 C678.9 1936.6 683.3 1942.3 690.3 1946.0 C697.3 1949.7 707.8 1952.2 716.6 1956.6 C725.4 1961.0 733.3 1968.7 743.0 1972.4 C752.7 1976.1 764.5 1975.3 774.6 1979.0 C784.7 1982.7 793.4 1990.4 803.5 1994.8 C813.6 1999.2 827.7 2002.9 835.2 2005.3 C842.7 2007.7 840.8 2005.3 848.3 2009.3 C855.8 2013.2 869.5 2022.6 880.0 2029.0 C890.5 2035.4 902.8 2042.7 911.6 2047.5 C920.4 2052.3 922.6 2053.6 932.7 2058.0 C942.8 2062.4 959.0 2068.1 972.2 2073.8 C985.4 2079.5 998.5 2086.6 1011.7 2092.3 C1024.9 2098.0 1037.2 2103.4 1051.2 2108.0 C1065.2 2112.6 1084.1 2116.2 1096.0 2119.9 C1107.9 2123.7 1114.5 2128.5 1122.4 2130.5 C1130.3 2132.5 1135.5 2131.2 1143.4 2131.8 C1151.3 2132.5 1161.9 2132.4 1169.8 2134.4 C1177.7 2136.4 1179.9 2140.5 1190.9 2143.6 C1201.9 2146.7 1221.5 2149.3 1235.6 2152.8 C1249.6 2156.3 1261.6 2161.4 1275.2 2164.7 C1288.8 2168.0 1310.3 2171.3 1317.3 2172.6" fill="none" stroke="#c4f4c4" stroke-width="8" stroke-linejoin="round" stroke-linecap="round" opacity="0.6"/>
<path d="M472.9 2094.9 C474.4 2095.3 477.9 2095.5 482.1 2097.5 C486.3 2099.5 489.6 2104.7 498.0 2106.7 C506.4 2108.7 522.1 2108.1 532.2 2109.4 C542.3 2110.7 549.3 2113.3 558.5 2114.6 C567.7 2115.9 579.1 2116.4 587.5 2117.3 C595.9 2118.2 603.6 2117.9 608.6 2119.9 C613.6 2121.9 614.3 2128.9 617.8 2129.1 C621.3 2129.3 625.1 2128.2 629.7 2121.2 C634.3 2114.2 640.2 2098.4 645.5 2087.0 C650.8 2075.6 656.5 2060.6 661.3 2052.7 C666.1 2044.8 670.5 2040.7 674.5 2039.6 C678.5 2038.5 679.7 2044.2 685.0 2046.2 C690.3 2048.2 699.5 2049.0 706.1 2051.4 C712.7 2053.8 714.0 2058.6 724.5 2060.6 C735.0 2062.6 758.3 2062.0 769.3 2063.3 C780.3 2064.6 780.3 2067.6 790.4 2068.5 C800.5 2069.4 820.2 2067.6 829.9 2068.5 C839.5 2069.4 841.7 2071.8 848.3 2073.8 C854.9 2075.8 864.1 2079.5 869.4 2080.4 C874.7 2081.3 876.5 2080.2 880.0 2079.1 C883.5 2078.0 885.2 2079.1 890.5 2073.8 C895.8 2068.5 906.3 2053.4 911.6 2047.5 C916.9 2041.6 918.8 2040.3 922.1 2038.3 C925.4 2036.3 929.0 2035.4 931.4 2035.6 C933.8 2035.8 932.0 2039.4 936.6 2039.6 C941.2 2039.8 948.7 2038.9 959.0 2036.9 C969.3 2034.9 985.3 2031.2 998.5 2027.7 C1011.7 2024.2 1028.0 2018.4 1038.1 2015.9 C1048.2 2013.4 1053.4 2012.7 1059.1 2012.7 C1064.8 2012.7 1067.0 2012.3 1072.3 2015.9 C1077.6 2019.5 1084.5 2025.5 1090.7 2034.3 C1096.9 2043.1 1103.9 2058.0 1109.2 2068.5 C1114.5 2079.0 1118.7 2091.3 1122.4 2097.5 C1126.1 2103.7 1128.1 2105.4 1131.6 2105.4 C1135.1 2105.4 1138.8 2103.7 1143.4 2097.5 C1148.0 2091.3 1154.4 2077.5 1159.2 2068.5 C1164.0 2059.5 1168.7 2048.8 1172.4 2043.5 C1176.1 2038.2 1178.5 2037.1 1181.6 2036.9 C1184.7 2036.7 1185.9 2043.3 1190.9 2042.2 C1196.0 2041.1 1202.2 2035.1 1211.9 2030.3 C1221.6 2025.5 1239.1 2016.0 1248.8 2013.2 C1258.5 2010.4 1258.5 2014.7 1269.9 2013.2 C1281.3 2011.7 1309.4 2005.5 1317.3 2004.0" fill="none" stroke="#d6d6fa" stroke-width="8" stroke-linejoin="round" stroke-linecap="round" opacity="0.6"/>
<path d="M472.9 2382.2 C478.4 2382.1 498.2 2382.1 505.9 2381.4 C513.6 2380.7 513.3 2378.3 519.0 2378.0 C524.7 2377.7 533.5 2378.8 540.1 2379.6 C546.7 2380.4 551.0 2381.9 558.5 2382.7 C566.0 2383.4 577.0 2384.3 584.9 2384.1 C592.8 2383.9 600.5 2380.7 606.0 2381.4 C611.5 2382.1 613.0 2388.7 617.8 2388.5 C622.6 2388.3 629.4 2385.0 634.9 2380.1 C640.4 2375.2 645.4 2366.5 650.7 2359.0 C656.0 2351.5 662.4 2340.2 666.6 2335.3 C670.8 2330.4 672.3 2329.7 675.8 2329.5 C679.3 2329.3 683.0 2332.4 687.6 2334.0 C692.2 2335.6 696.4 2338.0 703.4 2339.3 C710.4 2340.6 723.2 2341.9 729.8 2341.9 C736.4 2341.9 734.2 2339.1 743.0 2339.3 C751.8 2339.5 773.7 2342.3 782.5 2343.2 C791.3 2344.1 786.8 2345.3 795.6 2344.5 C804.4 2343.7 826.9 2339.5 835.2 2338.5 C843.6 2337.5 841.3 2337.9 845.7 2338.5 C850.1 2339.1 855.8 2340.5 861.5 2341.9 C867.2 2343.3 873.4 2345.7 880.0 2347.2 C886.6 2348.7 892.3 2350.7 901.1 2351.1 C909.9 2351.5 919.5 2349.4 932.7 2349.8 C945.9 2350.2 960.4 2353.2 980.1 2353.8 C999.9 2354.4 1033.6 2352.8 1051.2 2353.2 C1068.8 2353.6 1073.6 2355.2 1085.5 2356.4 C1097.4 2357.6 1112.8 2360.7 1122.4 2360.3 C1132.1 2359.9 1135.5 2355.7 1143.4 2353.8 C1151.3 2351.9 1163.2 2349.2 1169.8 2349.0 C1176.4 2348.8 1178.6 2350.5 1183.0 2352.4 C1187.4 2354.3 1188.2 2358.9 1196.1 2360.3 C1204.0 2361.8 1217.2 2360.2 1230.4 2361.1 C1243.6 2362.0 1260.7 2364.8 1275.2 2365.6 C1289.7 2366.3 1310.3 2365.6 1317.3 2365.6" fill="none" stroke="#f5cef7" stroke-width="8" stroke-linejoin="round" stroke-linecap="round" opacity="0.6"/>
<path d="M472.9 1922.4 C485.0 1922.8 526.7 1924.3 545.4 1925.0 C564.1 1925.7 574.8 1925.2 584.9 1926.3 C595.0 1927.4 600.5 1929.2 606.0 1931.6 C611.5 1934.0 613.8 1943.2 617.8 1940.8 C621.8 1938.4 625.1 1931.9 629.7 1917.0 C634.3 1902.1 640.7 1872.3 645.5 1851.2 C650.3 1830.1 654.8 1805.5 658.7 1790.6 C662.7 1775.7 666.4 1767.6 669.2 1761.7 C672.1 1755.8 672.9 1753.7 675.8 1755.0 C678.6 1756.3 681.7 1766.9 686.3 1769.6 C690.9 1772.2 696.1 1769.6 703.4 1770.9 C710.6 1772.2 721.0 1775.3 729.8 1777.5 C738.6 1779.7 745.1 1782.7 756.1 1784.0 C767.1 1785.3 782.4 1785.4 795.6 1785.4 C808.8 1785.4 823.3 1784.7 835.2 1784.0 C847.1 1783.3 859.3 1781.8 866.8 1781.4 C874.3 1781.0 873.4 1781.0 880.0 1781.4 C886.6 1781.8 896.6 1783.1 906.3 1784.0 C916.0 1784.9 929.2 1786.7 938.0 1786.7 C946.8 1786.7 951.1 1785.5 959.0 1784.0 C966.9 1782.5 974.4 1779.7 985.4 1777.5 C996.4 1775.3 1013.9 1772.9 1024.9 1770.9 C1035.9 1768.9 1043.3 1766.6 1051.2 1765.6 C1059.1 1764.6 1065.7 1764.1 1072.3 1764.8 C1078.9 1765.5 1084.5 1766.2 1090.7 1769.6 C1096.9 1773.0 1103.9 1779.3 1109.2 1785.4 C1114.5 1791.5 1118.5 1800.5 1122.4 1806.4 C1126.4 1812.3 1129.0 1819.8 1132.9 1820.9 C1136.9 1822.0 1141.3 1817.2 1146.1 1813.0 C1150.9 1808.8 1157.1 1800.7 1161.9 1795.9 C1166.7 1791.1 1171.5 1785.5 1175.0 1784.0 C1178.5 1782.5 1179.5 1783.8 1183.0 1786.7 C1186.5 1789.6 1191.3 1799.2 1196.1 1801.2 C1200.9 1803.2 1203.1 1800.0 1211.9 1798.5 C1220.7 1797.0 1238.2 1792.7 1248.8 1792.0 C1259.3 1791.3 1263.8 1793.9 1275.2 1794.6 C1286.6 1795.2 1310.3 1795.7 1317.3 1795.9" fill="none" stroke="#b85c64" stroke-width="3.6" stroke-linejoin="round" stroke-linecap="round"/>
<path d="M472.9 1888.1 C478.4 1890.7 493.8 1897.8 505.9 1903.9 C518.0 1910.1 533.1 1918.8 545.4 1925.0 C557.7 1931.2 570.0 1936.8 579.6 1940.8 C589.2 1944.8 596.7 1945.8 603.3 1948.7 C609.9 1951.6 613.0 1958.4 619.1 1957.9 C625.2 1957.5 632.7 1950.4 640.2 1946.0 C647.7 1941.6 658.2 1933.6 663.9 1931.6 C669.6 1929.6 670.1 1931.8 674.5 1934.2 C678.9 1936.6 683.3 1942.3 690.3 1946.0 C697.3 1949.7 707.8 1952.2 716.6 1956.6 C725.4 1961.0 733.3 1968.7 743.0 1972.4 C752.7 1976.1 764.5 1975.3 774.6 1979.0 C784.7 1982.7 793.4 1990.4 803.5 1994.8 C813.6 1999.2 827.7 2002.9 835.2 2005.3 C842.7 2007.7 840.8 2005.3 848.3 2009.3 C855.8 2013.2 869.5 2022.6 880.0 2029.0 C890.5 2035.4 902.8 2042.7 911.6 2047.5 C920.4 2052.3 922.6 2053.6 932.7 2058.0 C942.8 2062.4 959.0 2068.1 972.2 2073.8 C985.4 2079.5 998.5 2086.6 1011.7 2092.3 C1024.9 2098.0 1037.2 2103.4 1051.2 2108.0 C1065.2 2112.6 1084.1 2116.2 1096.0 2119.9 C1107.9 2123.7 1114.5 2128.5 1122.4 2130.5 C1130.3 2132.5 1135.5 2131.2 1143.4 2131.8 C1151.3 2132.5 1161.9 2132.4 1169.8 2134.4 C1177.7 2136.4 1179.9 2140.5 1190.9 2143.6 C1201.9 2146.7 1221.5 2149.3 1235.6 2152.8 C1249.6 2156.3 1261.6 2161.4 1275.2 2164.7 C1288.8 2168.0 1310.3 2171.3 1317.3 2172.6" fill="none" stroke="#519558" stroke-width="3.6" stroke-linejoin="round" stroke-linecap="round"/>
<path d="M472.9 2094.9 C474.4 2095.3 477.9 2095.5 482.1 2097.5 C486.3 2099.5 489.6 2104.7 498.0 2106.7 C506.4 2108.7 522.1 2108.1 532.2 2109.4 C542.3 2110.7 549.3 2113.3 558.5 2114.6 C567.7 2115.9 579.1 2116.4 587.5 2117.3 C595.9 2118.2 603.6 2117.9 608.6 2119.9 C613.6 2121.9 614.3 2128.9 617.8 2129.1 C621.3 2129.3 625.1 2128.2 629.7 2121.2 C634.3 2114.2 640.2 2098.4 645.5 2087.0 C650.8 2075.6 656.5 2060.6 661.3 2052.7 C666.1 2044.8 670.5 2040.7 674.5 2039.6 C678.5 2038.5 679.7 2044.2 685.0 2046.2 C690.3 2048.2 699.5 2049.0 706.1 2051.4 C712.7 2053.8 714.0 2058.6 724.5 2060.6 C735.0 2062.6 758.3 2062.0 769.3 2063.3 C780.3 2064.6 780.3 2067.6 790.4 2068.5 C800.5 2069.4 820.2 2067.6 829.9 2068.5 C839.5 2069.4 841.7 2071.8 848.3 2073.8 C854.9 2075.8 864.1 2079.5 869.4 2080.4 C874.7 2081.3 876.5 2080.2 880.0 2079.1 C883.5 2078.0 885.2 2079.1 890.5 2073.8 C895.8 2068.5 906.3 2053.4 911.6 2047.5 C916.9 2041.6 918.8 2040.3 922.1 2038.3 C925.4 2036.3 929.0 2035.4 931.4 2035.6 C933.8 2035.8 932.0 2039.4 936.6 2039.6 C941.2 2039.8 948.7 2038.9 959.0 2036.9 C969.3 2034.9 985.3 2031.2 998.5 2027.7 C1011.7 2024.2 1028.0 2018.4 1038.1 2015.9 C1048.2 2013.4 1053.4 2012.7 1059.1 2012.7 C1064.8 2012.7 1067.0 2012.3 1072.3 2015.9 C1077.6 2019.5 1084.5 2025.5 1090.7 2034.3 C1096.9 2043.1 1103.9 2058.0 1109.2 2068.5 C1114.5 2079.0 1118.7 2091.3 1122.4 2097.5 C1126.1 2103.7 1128.1 2105.4 1131.6 2105.4 C1135.1 2105.4 1138.8 2103.7 1143.4 2097.5 C1148.0 2091.3 1154.4 2077.5 1159.2 2068.5 C1164.0 2059.5 1168.7 2048.8 1172.4 2043.5 C1176.1 2038.2 1178.5 2037.1 1181.6 2036.9 C1184.7 2036.7 1185.9 2043.3 1190.9 2042.2 C1196.0 2041.1 1202.2 2035.1 1211.9 2030.3 C1221.6 2025.5 1239.1 2016.0 1248.8 2013.2 C1258.5 2010.4 1258.5 2014.7 1269.9 2013.2 C1281.3 2011.7 1309.4 2005.5 1317.3 2004.0" fill="none" stroke="#52529a" stroke-width="3.6" stroke-linejoin="round" stroke-linecap="round"/>
<path d="M472.9 2382.2 C478.4 2382.1 498.2 2382.1 505.9 2381.4 C513.6 2380.7 513.3 2378.3 519.0 2378.0 C524.7 2377.7 533.5 2378.8 540.1 2379.6 C546.7 2380.4 551.0 2381.9 558.5 2382.7 C566.0 2383.4 577.0 2384.3 584.9 2384.1 C592.8 2383.9 600.5 2380.7 606.0 2381.4 C611.5 2382.1 613.0 2388.7 617.8 2388.5 C622.6 2388.3 629.4 2385.0 634.9 2380.1 C640.4 2375.2 645.4 2366.5 650.7 2359.0 C656.0 2351.5 662.4 2340.2 666.6 2335.3 C670.8 2330.4 672.3 2329.7 675.8 2329.5 C679.3 2329.3 683.0 2332.4 687.6 2334.0 C692.2 2335.6 696.4 2338.0 703.4 2339.3 C710.4 2340.6 723.2 2341.9 729.8 2341.9 C736.4 2341.9 734.2 2339.1 743.0 2339.3 C751.8 2339.5 773.7 2342.3 782.5 2343.2 C791.3 2344.1 786.8 2345.3 795.6 2344.5 C804.4 2343.7 826.9 2339.5 835.2 2338.5 C843.6 2337.5 841.3 2337.9 845.7 2338.5 C850.1 2339.1 855.8 2340.5 861.5 2341.9 C867.2 2343.3 873.4 2345.7 880.0 2347.2 C886.6 2348.7 892.3 2350.7 901.1 2351.1 C909.9 2351.5 919.5 2349.4 932.7 2349.8 C945.9 2350.2 960.4 2353.2 980.1 2353.8 C999.9 2354.4 1033.6 2352.8 1051.2 2353.2 C1068.8 2353.6 1073.6 2355.2 1085.5 2356.4 C1097.4 2357.6 1112.8 2360.7 1122.4 2360.3 C1132.1 2359.9 1135.5 2355.7 1143.4 2353.8 C1151.3 2351.9 1163.2 2349.2 1169.8 2349.0 C1176.4 2348.8 1178.6 2350.5 1183.0 2352.4 C1187.4 2354.3 1188.2 2358.9 1196.1 2360.3 C1204.0 2361.8 1217.2 2360.2 1230.4 2361.1 C1243.6 2362.0 1260.7 2364.8 1275.2 2365.6 C1289.7 2366.3 1310.3 2365.6 1317.3 2365.6" fill="none" stroke="#8a5c9c" stroke-width="3.6" stroke-linejoin="round" stroke-linecap="round"/>
<line x1="683.9" y1="1703.0" x2="683.9" y2="1727.8" stroke="#aa2a36" stroke-width="3.6" opacity="0.8"/>
<path d="M676.4 1725.8 L691.4 1725.8 L683.9 1741.8 Z" fill="#aa2a36"/>
<line x1="1189.5" y1="1738.0" x2="1189.5" y2="1763.5" stroke="#aa2a36" stroke-width="3.6" opacity="0.8"/>
<path d="M1182.0 1761.5 L1197.0 1761.5 L1189.5 1777.5 Z" fill="#aa2a36"/>
<line x1="674.5" y1="1888.0" x2="674.5" y2="1911.0" stroke="#58703e" stroke-width="3.6" opacity="0.8"/>
<path d="M667.0 1909.0 L682.0 1909.0 L674.5 1925.0 Z" fill="#58703e"/>
<line x1="1183.0" y1="2089.6" x2="1183.0" y2="2111.2" stroke="#58703e" stroke-width="3.6" opacity="0.8"/>
<path d="M1175.5 2109.2 L1190.5 2109.2 L1183.0 2125.2 Z" fill="#58703e"/>
<line x1="687.6" y1="1996.1" x2="687.6" y2="2020.3" stroke="#485a88" stroke-width="3.6" opacity="0.8"/>
<path d="M680.1 2018.3 L695.1 2018.3 L687.6 2034.3 Z" fill="#485a88"/>
<line x1="1189.5" y1="1990.8" x2="1189.5" y2="2015.0" stroke="#485a88" stroke-width="3.6" opacity="0.8"/>
<path d="M1182.0 2013.0 L1197.0 2013.0 L1189.5 2029.0 Z" fill="#485a88"/>
<line x1="687.6" y1="2286.6" x2="687.6" y2="2308.1" stroke="#6a4488" stroke-width="3.6" opacity="0.8"/>
<path d="M680.1 2306.1 L695.1 2306.1 L687.6 2322.1 Z" fill="#6a4488"/>
<line x1="1180.3" y1="2305.0" x2="1180.3" y2="2327.9" stroke="#6a4488" stroke-width="3.6" opacity="0.8"/>
<path d="M1172.8 2325.9 L1187.8 2325.9 L1180.3 2341.9 Z" fill="#6a4488"/>
<g fill="#000">
<rect x="300.2" y="1686.6" width="9.8" height="779.2"/>
<rect x="268.4" y="1686.7" width="41" height="7.6"/>
<rect x="268.4" y="1935.0" width="41" height="7.6"/>
<rect x="268.4" y="2183.3" width="41" height="7.6"/>
<rect x="268.4" y="2432.6" width="1305" height="5.6"/>
<rect x="344.1" y="2435" width="6.2" height="16.6"/>
<rect x="386.2" y="2435" width="6.2" height="16.6"/>
<rect x="428.4" y="2435" width="6.2" height="16.6"/>
<rect x="470.6" y="2435" width="6.2" height="16.6"/>
<rect x="512.7" y="2435" width="6.2" height="16.6"/>
<rect x="554.9" y="2435" width="6.2" height="16.6"/>
<rect x="597.1" y="2435" width="6.2" height="16.6"/>
<rect x="639.2" y="2435" width="6.2" height="16.6"/>
<rect x="681.4" y="2435" width="6.2" height="16.6"/>
<rect x="722.6" y="2435" width="8" height="30.7"/>
<rect x="765.7" y="2435" width="6.2" height="16.6"/>
<rect x="807.9" y="2435" width="6.2" height="16.6"/>
<rect x="850.0" y="2435" width="6.2" height="16.6"/>
<rect x="892.2" y="2435" width="6.2" height="16.6"/>
<rect x="934.4" y="2435" width="6.2" height="16.6"/>
<rect x="976.5" y="2435" width="6.2" height="16.6"/>
<rect x="1018.7" y="2435" width="6.2" height="16.6"/>
<rect x="1060.9" y="2435" width="6.2" height="16.6"/>
<rect x="1103.0" y="2435" width="6.2" height="16.6"/>
<rect x="1144.3" y="2435" width="8" height="30.7"/>
<rect x="1187.4" y="2435" width="6.2" height="16.6"/>
<rect x="1229.5" y="2435" width="6.2" height="16.6"/>
<rect x="1271.7" y="2435" width="6.2" height="16.6"/>
<rect x="1313.9" y="2435" width="6.2" height="16.6"/>
<rect x="1356.0" y="2435" width="6.2" height="16.6"/>
<rect x="1398.2" y="2435" width="6.2" height="16.6"/>
<rect x="1440.4" y="2435" width="6.2" height="16.6"/>
<rect x="1482.5" y="2435" width="6.2" height="16.6"/>
<rect x="1524.7" y="2435" width="6.2" height="16.6"/>
<rect x="1566.2" y="2435" width="7.6" height="30.7"/>
</g>
<text transform="translate(133.44 1708.40) scale(1.0733 1)" font-size="59.72" fill="#000">0.15</text>
<text transform="translate(132.41 1958.31) scale(1.0889 1)" font-size="59.44" fill="#000">0.10</text>
<text transform="translate(132.43 2207.11) scale(1.0802 1)" font-size="59.44" fill="#000">0.05</text>
<text transform="translate(133.22 2454.91) scale(1.0878 1)" font-size="59.30" fill="#000">0.00</text>
<text transform="translate(250.11 2528.99) scale(1.0516 1)" font-size="60.56" fill="#000">300</text>
<text transform="translate(671.80 2528.99) scale(1.0567 1)" font-size="60.56" fill="#000">350</text>
<text transform="translate(1092.93 2528.99) scale(1.0625 1)" font-size="60.56" fill="#000">400</text>
<text transform="translate(1514.43 2528.99) scale(1.0625 1)" font-size="60.56" fill="#000">450</text>
<text transform="translate(111.02 2329.49) rotate(-90) scale(0.9986 1)" font-size="67.89" fill="#000">Absorbance</text>
<text transform="translate(659.30 2619.78) scale(1.2005 1)" font-size="58.18" fill="#000">Wavelength (nm)</text>
<line x1="1440.9" y1="1740.0" x2="1534.3" y2="1740.0" stroke="#62986c" stroke-width="4.2"/>
<line x1="1440.9" y1="1841.0" x2="1534.3" y2="1841.0" stroke="#8c68a0" stroke-width="4.2"/>
<line x1="1440.9" y1="1941.7" x2="1534.3" y2="1941.7" stroke="#5c5c98" stroke-width="4.2"/>
<line x1="1440.9" y1="2042.5" x2="1534.3" y2="2042.5" stroke="#c06a72" stroke-width="4.2"/>
<text transform="translate(1578.98 1775.43) scale(0.9324 1)" font-size="67.46" fill="#000">GBE-SLNP</text>
<text transform="translate(1647.98 1866.32) scale(0.9268 1)" font-size="67.89" fill="#000"><tspan x="-73.24" y="0">H</tspan><tspan x="-23.19" y="12.48" font-size="40.29">2</tspan><tspan x="0" y="0">O-SLNP</tspan></text>
<text transform="translate(1578.99 1959.22) scale(0.9280 1)" font-size="67.75" fill="#000">GBE-PLL-SLNP</text>
<text transform="translate(1647.99 2049.82) scale(0.9226 1)" font-size="68.03" fill="#000"><tspan x="-73.56" y="0">H</tspan><tspan x="-23.29" y="12.38" font-size="40.29">2</tspan><tspan x="0" y="0">O-PLL-SLNP</tspan></text>
<line x1="1211.8" y1="1229.8" x2="27.2" y2="1560.4" stroke="#f8d0d0" stroke-width="8" opacity="0.6"/>
<line x1="1516" y1="1232" x2="2124.3" y2="1560.6" stroke="#f8d0d0" stroke-width="8" opacity="0.6"/>
<line x1="1211.8" y1="1229.8" x2="27.2" y2="1560.4" stroke="#b8646a" stroke-width="3"/>
<line x1="1516" y1="1232" x2="2124.3" y2="1560.6" stroke="#b8646a" stroke-width="3"/>
</svg>
</body></html>
